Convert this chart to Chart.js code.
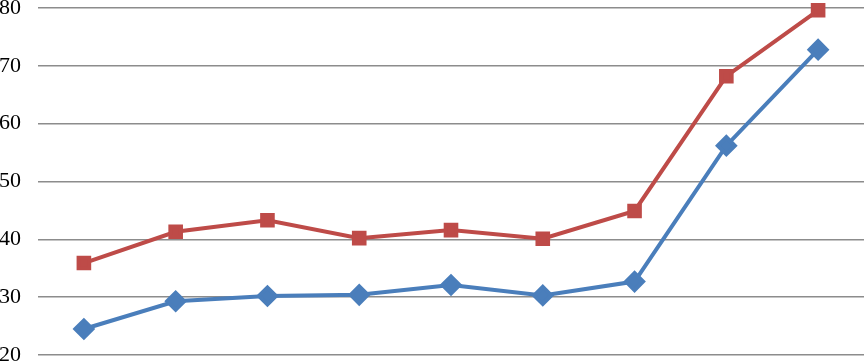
<!DOCTYPE html>
<html>
<head>
<meta charset="utf-8">
<script src="https://cdn.jsdelivr.net/npm/chart.js@4/dist/chart.umd.min.js"></script>
<style>
  html, body { margin: 0; padding: 0; background: #fff; overflow: hidden; }
  canvas { display: block; }
</style>
</head>
<body>
<canvas id="lineChart" width="864" height="363"></canvas>
<script>
var categories = ['1', '2', '3', '4', '5', '6', '7', '8', '9'];
var blueValues = [24.5, 29.3, 30.2, 30.4, 32.1, 30.3, 32.7, 56.2, 72.8];
var redValues = [35.9, 41.3, 43.3, 40.2, 41.6, 40.1, 44.9, 68.2, 79.6];
var yTicks = [20, 30, 40, 50, 60, 70, 80];

document.addEventListener("DOMContentLoaded", function() {
    var ctx = document.getElementById('lineChart').getContext('2d');
    new Chart(ctx, {
        type: 'line',
        data: {
            labels: categories,
            datasets: [{
                label: 'Series 1',
                data: blueValues,
                borderColor: '#4a7ebb',
                backgroundColor: '#4a7ebb',
                borderWidth: 4,
                pointStyle: 'rectRot',
                pointRadius: 8.5,
                pointHoverRadius: 8.5,
                tension: 0,
                clip: false
            }, {
                label: 'Series 2',
                data: redValues,
                borderColor: '#be4b48',
                backgroundColor: '#be4b48',
                borderWidth: 4,
                pointStyle: 'rect',
                pointRadius: 7.5,
                pointHoverRadius: 7.5,
                tension: 0,
                clip: false
            }]
        },
        options: {
            responsive: false,
            devicePixelRatio: 1,
            animation: false,
            layout: { autoPadding: false, padding: { top: 8, bottom: 8, right: 0, left: 0 } },
            plugins: {
                legend: { display: false },
                title: { display: false },
                tooltip: { enabled: false }
            },
            scales: {
                x: {
                    display: false,
                    offset: true
                },
                y: {
                    min: 20,
                    max: 80,
                    afterBuildTicks: function(scale) {
                        scale.ticks = yTicks.map(function(v) { return { value: v }; });
                    },
                    afterFit: function(scale) {
                        scale.width = 38;
                        scale.paddingTop = 0;
                        scale.paddingBottom = 0;
                    },
                    border: { display: false },
                    grid: {
                        color: '#8c8c8c',
                        lineWidth: 1.5,
                        drawTicks: false
                    },
                    ticks: {
                        padding: 17,
                        color: '#000',
                        font: { family: 'Liberation Serif', size: 22 }
                    }
                }
            }
        }
    });
});
</script>
</body>
</html>
